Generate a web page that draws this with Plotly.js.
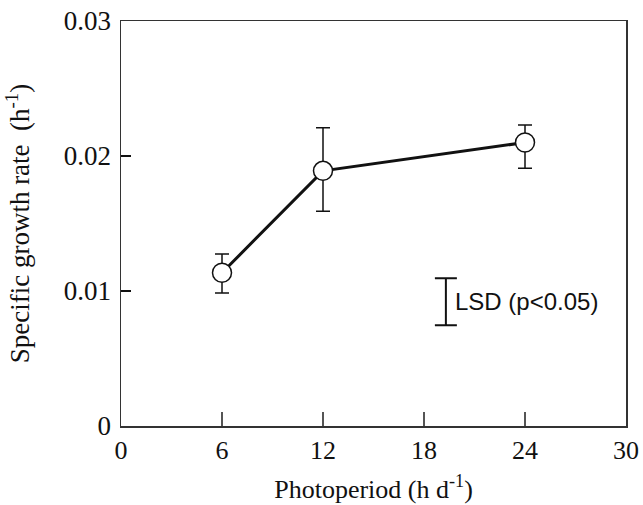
<!DOCTYPE html>
<html>
<head>
<meta charset="utf-8">
<script src="https://cdn.plot.ly/plotly-3.0.1.min.js"></script>
<style>html,body{margin:0;padding:0;background:#fff;}#chart{width:643px;height:505px;}</style>
</head>
<body>
<div id="chart"></div>
<script>
// Data
const photoperiod = [6, 12, 24];
const growthRate = [0.01135, 0.0189, 0.0210];
const errUpper = [0.0014, 0.0032, 0.0013];
const errLower = [0.0015, 0.0030, 0.0019];

const lsdX = [19.3];
const lsdMid = [0.0092];
const lsdHalf = [0.00174];
const lsdLabel = 'LSD (p<0.05)';

const xTicks = [0, 6, 12, 18, 24, 30];
const xTickText = ['0', '6', '12', '18', '24', '30'];
const yTicks = [0, 0.01, 0.02, 0.03];
const yTickText = ['0', '0.01', '0.02', '0.03'];

const traces = [
  {
    x: photoperiod, y: growthRate, type: 'scatter', mode: 'lines+markers',
    line: {color: '#111', width: 3},
    marker: {symbol: 'circle', size: 19, color: '#fff', line: {color: '#111', width: 1.5}},
    error_y: {type: 'data', symmetric: false, array: errUpper, arrayminus: errLower,
              color: '#111', thickness: 1.5, width: 7},
    showlegend: false, hoverinfo: 'none'
  },
  {
    x: lsdX, y: lsdMid, type: 'scatter', mode: 'markers',
    marker: {size: 1, color: 'rgba(0,0,0,0)'},
    error_y: {type: 'data', array: lsdHalf, color: '#111', thickness: 2, width: 11},
    showlegend: false, hoverinfo: 'none'
  }
];

const serif = 'Liberation Serif, Times New Roman, serif';
const layout = {
  width: 643, height: 505,
  margin: {l: 121, r: 17, t: 21, b: 79},
  paper_bgcolor: '#fff', plot_bgcolor: '#fff',
  xaxis: {
    range: [0, 30], tickvals: xTicks, ticktext: xTickText,
    ticks: 'inside', ticklen: 14, tickwidth: 1.5, tickcolor: '#555',
    showline: true, linecolor: '#333', linewidth: 1.5, mirror: true,
    showgrid: false, zeroline: false,
    tickfont: {family: serif, size: 26, color: '#111'},
    title: {text: 'Photoperiod (h d<sup>-1</sup>)', font: {family: serif, size: 26, color: '#111'}, standoff: 16}
  },
  yaxis: {
    range: [0, 0.03], tickvals: yTicks, ticktext: yTickText,
    ticks: 'inside', ticklen: 10, tickwidth: 1.5, tickcolor: '#111',
    showline: true, linecolor: '#333', linewidth: 1.5, mirror: true,
    showgrid: false, zeroline: false,
    ticklabelstandoff: 3,
    tickfont: {family: serif, size: 27, color: '#111'},
    title: {text: 'Specific growth rate  (h<sup>-1</sup>)', font: {family: serif, size: 27, color: '#111'}, standoff: 26}
  },
  annotations: [{
    x: lsdX[0], y: lsdMid[0], xref: 'x', yref: 'y', text: lsdLabel,
    showarrow: false, xanchor: 'left', yanchor: 'middle', xshift: 7,
    font: {family: 'Liberation Sans, Arial, sans-serif', size: 24, color: '#111'}
  }]
};

Plotly.newPlot('chart', traces, layout, {staticPlot: true, displayModeBar: false});
</script>
</body>
</html>
